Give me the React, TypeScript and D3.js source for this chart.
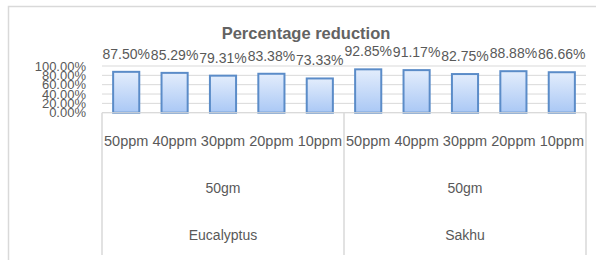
import { useEffect, useRef } from 'react';
import * as d3 from 'd3';

const doses = ['50ppm', '40ppm', '30ppm', '20ppm', '10ppm'];
const groups = ['Eucalyptus', 'Sakhu'];
const amountLabel = '50gm';
const eucalyptusValues = [87.5, 85.29, 79.31, 83.38, 73.33];
const sakhuValues = [92.85, 91.17, 82.75, 88.88, 86.66];
const yTicks = [0, 20, 40, 60, 80, 100];

export default function App() {
  const svgRef = useRef<SVGSVGElement>(null);

  useEffect(() => {
    if (!svgRef.current) return;
    d3.select(svgRef.current).selectAll('*').remove();

    const width = 596;
    const height = 260;
    const left = 102;
    const right = 586;
    const top = 66;
    const bottom = 112.7;
    const textColor = '#595959';
    const font = '"Liberation Sans", Arial, sans-serif';

    const svg = d3.select(svgRef.current).attr('width', width).attr('height', height);

    const defs = svg.append('defs');
    const grad = defs
      .append('linearGradient')
      .attr('id', 'barGrad')
      .attr('x1', 0)
      .attr('y1', 0)
      .attr('x2', 0)
      .attr('y2', 1);
    grad.append('stop').attr('offset', '0%').attr('stop-color', '#e3edfc');
    grad.append('stop').attr('offset', '100%').attr('stop-color', '#aac8f5');

    // outer chart border
    svg
      .append('rect')
      .attr('x', 8.5)
      .attr('y', 6.5)
      .attr('width', 620)
      .attr('height', 300)
      .attr('fill', 'white')
      .attr('stroke', '#d9d9d9')
      .attr('stroke-width', 1.5);

    const data = groups.flatMap((g, gi) =>
      doses.map((d, di) => ({
        key: `${g}-${d}`,
        group: g,
        dose: d,
        value: gi === 0 ? eucalyptusValues[di] : sakhuValues[di],
      }))
    );

    const x = d3
      .scaleBand<string>()
      .domain(data.map((d) => d.key))
      .range([left, right])
      .paddingInner(0.46)
      .paddingOuter(0.23);

    const y = d3.scaleLinear().domain([0, 100]).range([bottom, top]);

    // gridlines
    svg
      .selectAll('line.grid')
      .data(yTicks)
      .join('line')
      .attr('class', 'grid')
      .attr('x1', left)
      .attr('x2', right)
      .attr('y1', (d) => y(d))
      .attr('y2', (d) => y(d))
      .attr('stroke', '#d9d9d9')
      .attr('stroke-width', 1);

    // y tick labels (overlapping as in the original)
    svg
      .selectAll('text.ytick')
      .data(yTicks)
      .join('text')
      .attr('class', 'ytick')
      .attr('x', 86)
      .attr('y', (d) => y(d))
      .attr('dy', '0.35em')
      .attr('text-anchor', 'end')
      .attr('font-family', font)
      .attr('font-size', 13)
      .attr('fill', textColor)
      .text((d) => `${d.toFixed(2)}%`);

    // bars
    svg
      .selectAll('rect.bar')
      .data(data)
      .join('rect')
      .attr('class', 'bar')
      .attr('x', (d) => x(d.key)!)
      .attr('width', x.bandwidth())
      .attr('y', (d) => y(d.value))
      .attr('height', (d) => bottom - y(d.value))
      .attr('fill', 'url(#barGrad)')
      .attr('stroke', '#5b8cc8')
      .attr('stroke-width', 2);

    // value labels
    svg
      .selectAll('text.val')
      .data(data)
      .join('text')
      .attr('class', 'val')
      .attr('x', (d) => x(d.key)! + x.bandwidth() / 2)
      .attr('y', (d) => y(d.value) - 13)
      .attr('text-anchor', 'middle')
      .attr('font-family', font)
      .attr('font-size', 14)
      .attr('fill', textColor)
      .text((d) => `${d.value.toFixed(2)}%`);

    // category axis box
    const axisBottom = 255;
    const step = x.step();
    const groupEdges = groups.map((_, i) => left + i * step * doses.length);
    groupEdges.push(right);

    svg
      .append('line')
      .attr('x1', left)
      .attr('x2', right)
      .attr('y1', bottom)
      .attr('y2', bottom)
      .attr('stroke', '#d9d9d9');

    svg
      .selectAll('line.sep')
      .data(groupEdges)
      .join('line')
      .attr('class', 'sep')
      .attr('x1', (d) => d)
      .attr('x2', (d) => d)
      .attr('y1', bottom)
      .attr('y2', axisBottom)
      .attr('stroke', '#d9d9d9')
      .attr('stroke-width', 1.5);

    svg
      .selectAll('text.dose')
      .data(data)
      .join('text')
      .attr('class', 'dose')
      .attr('x', (d) => x(d.key)! + x.bandwidth() / 2)
      .attr('y', 141)
      .attr('dy', '0.35em')
      .attr('text-anchor', 'middle')
      .attr('font-family', font)
      .attr('font-size', 14.5)
      .attr('fill', textColor)
      .text((d) => d.dose);

    groups.forEach((g, i) => {
      const cx = (groupEdges[i] + groupEdges[i + 1]) / 2;
      svg
        .append('text')
        .attr('x', cx)
        .attr('y', 188)
        .attr('dy', '0.35em')
        .attr('text-anchor', 'middle')
        .attr('font-family', font)
        .attr('font-size', 14)
        .attr('fill', textColor)
        .text(amountLabel);
      svg
        .append('text')
        .attr('x', cx)
        .attr('y', 235)
        .attr('dy', '0.35em')
        .attr('text-anchor', 'middle')
        .attr('font-family', font)
        .attr('font-size', 14)
        .attr('fill', textColor)
        .text(g);
    });

    // title
    svg
      .append('text')
      .attr('x', 306)
      .attr('y', 33)
      .attr('dy', '0.35em')
      .attr('text-anchor', 'middle')
      .attr('font-family', font)
      .attr('font-size', 16.5)
      .attr('font-weight', 'bold')
      .attr('fill', '#636363')
      .text('Percentage reduction');
  }, []);

  return (
    <svg
      ref={svgRef}
      style={{ position: 'absolute', left: 0, top: 0, display: 'block' }}
    ></svg>
  );
}
